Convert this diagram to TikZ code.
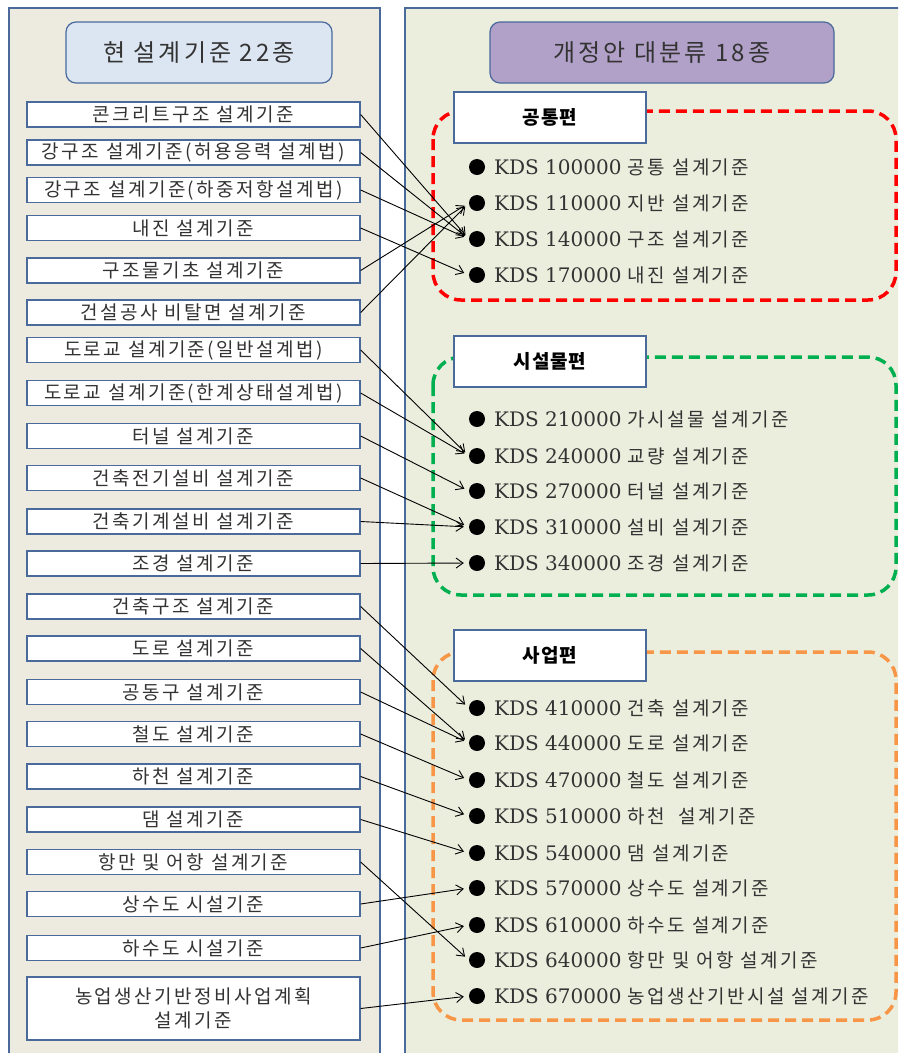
\documentclass[tikz,border=0pt]{standalone}
\usepackage{fontspec}
\setmainfont{DejaVu Serif}
\newfontfamily\kr[LetterSpace=5]{Noto Sans CJK KR}
\newfontfamily\krw[LetterSpace=13]{Noto Sans CJK KR}
\usetikzlibrary{arrows.meta}
\definecolor{lpanel}{HTML}{EDEBE0}
\definecolor{rpanel}{HTML}{EBEEDD}
\definecolor{pborder}{HTML}{4A6A9C}
\definecolor{ltitle}{HTML}{DCE6F2}
\definecolor{rtitle}{HTML}{B1A0C7}
\definecolor{dred}{HTML}{FF0000}
\definecolor{dgreen}{HTML}{00B050}
\definecolor{dorange}{HTML}{F79646}
\definecolor{txt}{HTML}{333333}
\newcommand\ko[1]{{\krw\fontsize{19}{22}\selectfont #1}}
\tikzset{
  panel/.style={draw=pborder, line width=1.2pt},
  titlebox/.style={draw=pborder, line width=1.2pt, rounded corners=10pt, minimum height=61pt, inner sep=0pt, font=\krw\fontsize{24}{28}\selectfont, text=txt},
  lbox/.style={draw=pborder, line width=1.3pt, fill=white, minimum width=333pt, minimum height=25pt, inner sep=0pt, font=\krw\fontsize{19}{22}\selectfont, text=txt, align=center},
  secbox/.style={draw=pborder, line width=1.6pt, fill=white, minimum width=192pt, minimum height=51pt, inner sep=0pt, font=\kr\bfseries\fontsize{19}{22}\selectfont, text=black},
  group/.style={line width=3.5pt, dash pattern=on 11pt off 6pt, rounded corners=28pt},
  bul/.style={circle, fill=black, minimum size=16pt, inner sep=0pt},
  item/.style={anchor=west, inner sep=0pt, font=\fontsize{20}{24}\selectfont, text=txt},
  conn/.style={draw=black, line width=0.9pt, -{Straight Barb[length=7pt,width=10pt]}, shorten >=5pt},
}
\begin{document}
\begin{tikzpicture}[x=1pt,y=-1pt]
\useasboundingbox (0,0) rectangle (898,1053);
\clip (0,0) rectangle (898,1053);
\fill[white] (0,0) rectangle (898,1053);
% panels
\filldraw[panel, fill=lpanel] (9,8) rectangle (380,1070);
\filldraw[panel, fill=rpanel] (405,8) rectangle (920,1070);
% titles
\node[titlebox, fill=ltitle, minimum width=266pt] (tl) at (199,52.5) {현 설계기준 22종};
\node[titlebox, fill=rtitle, minimum width=344pt] (tr) at (662,52.5) {개정안 대분류 18종};
% dashed groups
\draw[group, draw=dred] (433,111) rectangle (896,300);
\draw[group, draw=dgreen] (433,357) rectangle (896,595);
\draw[group, draw=dorange] (433,652) rectangle (896,1020);
% section labels
\node[secbox] (s1) at (550,117.5) {공통편};
\node[secbox] (s2) at (550,361.5) {시설물편};
\node[secbox] (s3) at (550,655.5) {사업편};
% left boxes
\node[lbox] (L1) at (193.5,114.5) {콘크리트구조 설계기준};
\node[lbox] (L2) at (193.5,152.5) {강구조 설계기준(허용응력 설계법)};
\node[lbox] (L3) at (193.5,190) {강구조 설계기준(하중저항설계법)};
\node[lbox] (L4) at (193.5,228) {내진 설계기준};
\node[lbox] (L5) at (193.5,270.5) {구조물기초 설계기준};
\node[lbox] (L6) at (193.5,312.5) {건설공사 비탈면 설계기준};
\node[lbox] (L7) at (193.5,350) {도로교 설계기준(일반설계법)};
\node[lbox] (L8) at (193.5,393) {도로교 설계기준(한계상태설계법)};
\node[lbox] (L9) at (193.5,436) {터널 설계기준};
\node[lbox] (L10) at (193.5,478) {건축전기설비 설계기준};
\node[lbox] (L11) at (193.5,521.5) {건축기계설비 설계기준};
\node[lbox] (L12) at (193.5,563.5) {조경 설계기준};
\node[lbox] (L13) at (193.5,606.5) {건축구조 설계기준};
\node[lbox] (L14) at (193.5,648.5) {도로 설계기준};
\node[lbox] (L15) at (193.5,692) {공동구 설계기준};
\node[lbox] (L16) at (193.5,734) {철도 설계기준};
\node[lbox] (L17) at (193.5,776.5) {하천 설계기준};
\node[lbox] (L18) at (193.5,819.5) {댐 설계기준};
\node[lbox] (L19) at (193.5,862) {항만 및 어항 설계기준};
\node[lbox] (L20) at (193.5,904) {상수도 시설기준};
\node[lbox] (L21) at (193.5,948) {하수도 시설기준};
\node[lbox, minimum height=63pt, font=\krw\fontsize{19}{24}\selectfont] (L22) at (193.5,1008.5) {농업생산기반정비사업계획\\설계기준};
% bullets and items
\foreach \n/\y/\t in {1/167/{KDS 100000 \ko{공통 설계기준}},
  2/203/{KDS 110000 \ko{지반 설계기준}},
  3/239/{KDS 140000 \ko{구조 설계기준}},
  4/275/{KDS 170000 \ko{내진 설계기준}},
  5/419/{KDS 210000 \ko{가시설물 설계기준}},
  6/456/{KDS 240000 \ko{교량 설계기준}},
  7/491/{KDS 270000 \ko{터널 설계기준}},
  8/527/{KDS 310000 \ko{설비 설계기준}},
  9/563/{KDS 340000 \ko{조경 설계기준}},
  10/708/{KDS 410000 \ko{건축 설계기준}},
  11/743/{KDS 440000 \ko{도로 설계기준}},
  12/780/{KDS 470000 \ko{철도 설계기준}},
  13/816/{KDS 510000 \ko{하천\ \ 설계기준}},
  14/853/{KDS 540000 \ko{댐 설계기준}},
  15/888/{KDS 570000 \ko{상수도 설계기준}},
  16/925/{KDS 610000 \ko{하수도 설계기준}},
  17/960/{KDS 640000 \ko{항만 및 어항 설계기준}},
  18/996/{KDS 670000 \ko{농업생산기반시설 설계기준}}}{
  \node[bul] (b\n) at (477,\y) {};
  \node[item] (t\n) at (494,\y) {\t};
}
% connectors
\draw[conn] (L1.east) -- (b3.west);
\draw[conn] (L2.east) -- (b3.west);
\draw[conn] (L3.east) -- (b3.west);
\draw[conn] (L4.east) -- (b4.west);
\draw[conn] (L5.east) -- (b2.west);
\draw[conn] (L6.east) -- (b2.west);
\draw[conn] (L7.east) -- (b6.west);
\draw[conn] (L8.east) -- (b6.west);
\draw[conn] (L9.east) -- (b7.west);
\draw[conn] (L10.east) -- (b8.west);
\draw[conn] (L11.east) -- (b8.west);
\draw[conn] (L12.east) -- (b9.west);
\draw[conn] (L13.east) -- (b10.west);
\draw[conn] (L14.east) -- (b11.west);
\draw[conn] (L15.east) -- (b11.west);
\draw[conn] (L16.east) -- (b12.west);
\draw[conn] (L17.east) -- (b13.west);
\draw[conn] (L18.east) -- (b14.west);
\draw[conn] (L19.east) -- (b17.west);
\draw[conn] (L20.east) -- (b15.west);
\draw[conn] (L21.east) -- (b16.west);
\draw[conn] (L22.east) -- (b18.west);
\end{tikzpicture}
\end{document}
